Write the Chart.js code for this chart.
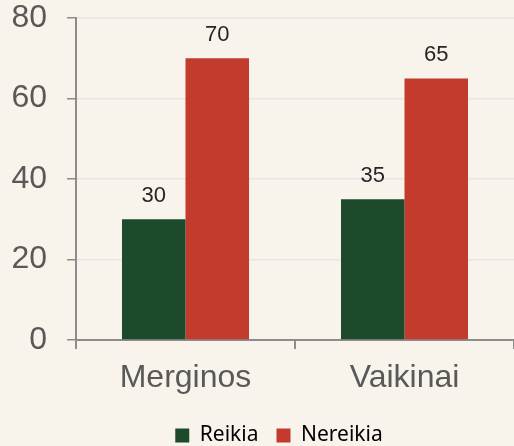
<!DOCTYPE html>
<html>
<head>
<meta charset="utf-8">
<script src="https://cdn.jsdelivr.net/npm/chart.js@4.4.1/dist/chart.umd.min.js"></script>
<style>
  html, body { margin: 0; padding: 0; background: #f8f4ec; }
  .wrap { width: 514px; height: 446px; }
</style>
</head>
<body>
<div class="wrap"><canvas id="chart" width="514" height="446"></canvas></div>
<script>
const categories = ['Merginos', 'Vaikinai'];
const reikia = [30, 35];
const nereikia = [70, 65];
const yTicks = [0, 20, 40, 60, 80];

// simple value labels above the bars
const barLabels = {
  id: 'barLabels',
  afterLayout(chart) {
    // legend sits a little right of centre in the original
    chart.legend.left += 44;
  },
  afterDatasetsDraw(chart) {
    const ctx = chart.ctx;
    ctx.save();
    ctx.font = '22px "Liberation Sans", Arial, sans-serif';
    ctx.fillStyle = '#262626';
    ctx.textAlign = 'center';
    ctx.textBaseline = 'alphabetic';
    chart.data.datasets.forEach((ds, i) => {
      chart.getDatasetMeta(i).data.forEach((bar, j) => {
        ctx.fillText(ds.data[j], bar.x, bar.y - 17);
      });
    });
    ctx.restore();
  }
};

new Chart(document.getElementById('chart'), {
  type: 'bar',
  data: {
    labels: categories,
    datasets: [
      { label: 'Reikia', data: reikia, backgroundColor: '#1c4a2b' },
      { label: 'Nereikia', data: nereikia, backgroundColor: '#c23b2d' }
    ]
  },
  options: {
    responsive: false,
    animation: false,
    layout: { padding: { top: 0, left: 0, right: 0, bottom: -10 } },
    datasets: { bar: { barPercentage: 1, categoryPercentage: 0.58 } },
    plugins: {
      legend: {
        position: 'bottom',
        labels: {
          boxWidth: 14, boxHeight: 14, padding: 18,
          color: '#000',
          font: { size: 21, family: '"Noto Sans", sans-serif' }
        }
      },
      tooltip: { enabled: false }
    },
    scales: {
      x: {
        afterFit(scale) { scale.height = 67; },
        grid: { offset: true, drawOnChartArea: false, tickLength: 9, color: '#8c8c8c', lineWidth: 2 },
        border: { color: '#8c8c8c', width: 2 },
        ticks: { color: '#595959', padding: 10, font: { size: 32, family: '"Liberation Sans", Arial, sans-serif' } }
      },
      y: {
        min: 0, max: 80,
        afterBuildTicks(axis) { axis.ticks = yTicks.map(v => ({ value: v })); },
        afterFit(scale) { scale.width = 76; scale.paddingTop = 18; },
        grid: { color: '#e6e6e6', tickColor: '#8c8c8c', tickLength: 9, lineWidth: 1.5 },
        border: { color: '#8c8c8c', width: 2 },
        ticks: { color: '#595959', padding: 20, font: { size: 32, family: '"Liberation Sans", Arial, sans-serif' } }
      }
    }
  },
  plugins: [barLabels]
});
</script>
</body>
</html>
